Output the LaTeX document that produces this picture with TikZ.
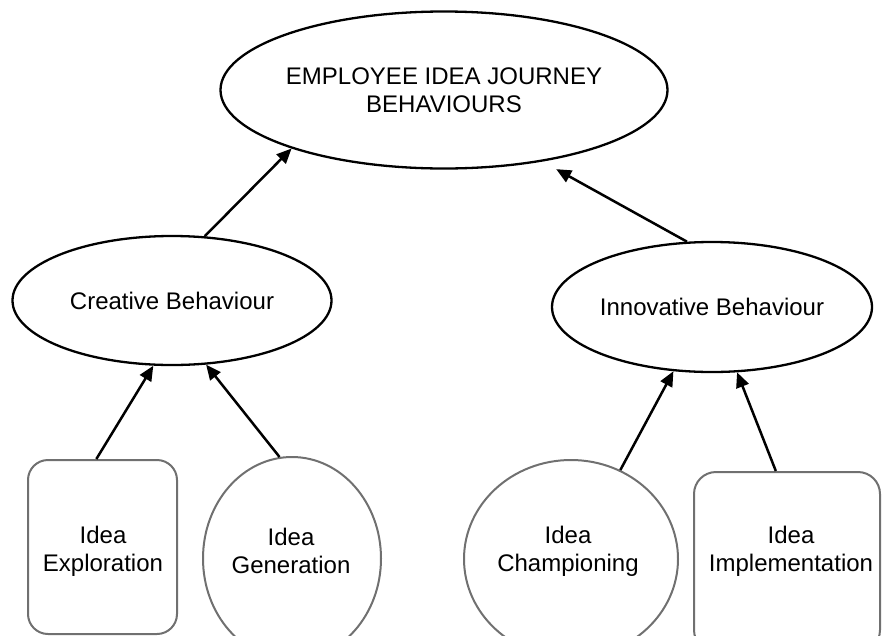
\documentclass[tikz,border=0pt]{standalone}
\usepackage{fontspec}
\setmainfont{Liberation Sans}
\usetikzlibrary{shapes.geometric,arrows.meta}
\definecolor{boxgray}{HTML}{707070}
\begin{document}
\begin{tikzpicture}[x=1pt,y=-1pt,
  every node/.style={font=\fontsize{24}{28}\selectfont, align=center},
  oval/.style={ellipse, draw=black, line width=2.3pt, inner sep=0pt},
  gshape/.style={draw=boxgray, line width=2pt, inner sep=0pt},
  lbl/.style={inner sep=0pt},
  arr/.style={-{Triangle[length=15pt,width=13pt]}, line width=2.5pt}]
\useasboundingbox (0,0) rectangle (883,635);
\clip (0,0) rectangle (883,635);

% upper levels
\node[oval, minimum width=428pt, minimum height=157pt] (top) at (444,90)
  {EMPLOYEE IDEA JOURNEY\\BEHAVIOURS};
\node[oval, minimum width=319pt, minimum height=129pt] (cre) at (172,300.5)
  {Creative Behaviour};
\node[oval, minimum width=320pt, minimum height=130pt] (inn) at (712,307)
  {Innovative Behaviour};

% bottom level shapes
\node[gshape, rectangle, rounded corners=20pt, minimum width=149pt, minimum height=174pt]
  (expl) at (102.5,547) {};
\node[gshape, ellipse, minimum width=178pt, minimum height=203pt]
  (gen) at (292,558.5) {};
\node[gshape, ellipse, minimum width=214pt, minimum height=198pt]
  (champ) at (571,559) {};
\node[gshape, rectangle, rounded corners=22pt, minimum width=186pt, minimum height=180pt]
  (impl) at (787,562) {};

% bottom level labels
\node[lbl] (explT)  at (103,551) {Idea\\Exploration};
\node[lbl] (genT)   at (291,551) {Idea\\Generation};
\node[lbl] (champT) at (568,551) {Idea\\Championing};
\node[lbl] (implT)  at (791,551) {Idea\\Implementation};

% connectors
\draw[arr] (cre.63.6) -- (top.-159.8);
\draw[arr, shorten >=15.6pt] (inn.111.6) -- (top.-36.4);
\draw[arr] (expl.94.3) -- (cre.-106.7);
\draw[arr] (gen.97.9) -- (cre.-62.9);
\draw[arr] (champ.61.3) -- (inn.-121.2);
\draw[arr] (impl.97.8) -- (inn.-69.3);
\end{tikzpicture}
\end{document}
